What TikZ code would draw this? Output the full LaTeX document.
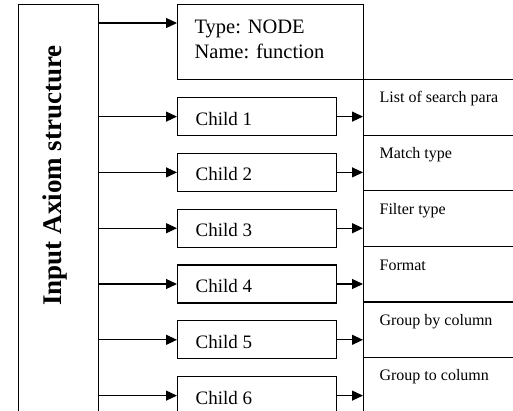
\documentclass[tikz,border=0pt]{standalone}
\usepackage{fontspec}
\setmainfont{Liberation Serif}
\usetikzlibrary{arrows.meta}
\begin{document}
\begin{tikzpicture}[x=1pt,y=-1pt,line width=1.2pt,
  conn/.style={-{Triangle[length=11pt,width=10pt]}},
  box/.style={draw,anchor=north west,inner sep=0pt},
  childbox/.style={box,minimum width=159pt,minimum height=38pt},
  cell/.style={box,minimum width=170pt,minimum height=55.6pt},
  childtxt/.style={anchor=west,font=\fontsize{19}{22}\selectfont,inner sep=0pt},
  celltxt/.style={anchor=west,font=\fontsize{16}{18}\selectfont,inner sep=0pt},
  toptxt/.style={anchor=base west,font=\fontsize{20.5}{24}\selectfont,inner sep=0pt}]
\useasboundingbox (0,0) rectangle (513,410);
% left box
\node[box,minimum width=80pt,minimum height=420pt] (inp) at (18,4) {};
\node[rotate=90,anchor=base,inner sep=0pt,font=\bfseries\fontsize{27}{30}\selectfont] (inptxt) at (61,175.5) {Input Axiom structure};
% top box
\node[box,minimum width=186pt,minimum height=75pt] (top) at (177,4) {};
\node[toptxt] (t1) at (194,33) {Type: NODE};
\node[toptxt] (t2) at (194,58) {Name: function};
\coordinate (ta) at ([yshift=-19pt]top.north west);
\draw[conn] (inp.east |- ta) -- (ta);
% right cells
\foreach \i/\lab in {1/List of search para,2/Match type,3/Filter type,4/Format,5/Group by column,6/Group to column}{
  \node[cell] (r\i) at (363,{79+55.6*(\i-1)}) {};
  \node[celltxt] (rt\i) at ([xshift=16pt,yshift=-20pt]r\i.north west) {\lab};
}
% children
\foreach \i in {1,...,6}{
  \node[childbox] (c\i) at (177,{97+55.8*(\i-1)}) {};
  \node[childtxt] (ct\i) at ([xshift=18pt,yshift=-2pt]c\i.west) {Child \i};
  \draw[conn] (inp.east |- c\i.west) -- (c\i.west);
  \draw[conn] (c\i.east) -- (r\i.west |- c\i.east);
}
\end{tikzpicture}
\end{document}
